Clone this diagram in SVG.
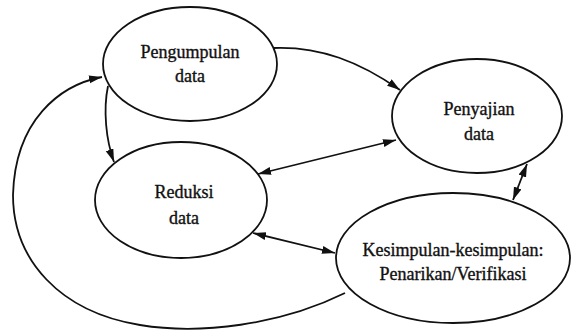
<svg xmlns="http://www.w3.org/2000/svg" width="572" height="333" viewBox="0 0 572 333">
<style>
.node ellipse{fill:#fff;stroke:#111;stroke-width:1.8}
.node text{font-family:"Liberation Serif","Times New Roman",serif;font-size:18px;fill:#111;stroke:#111;stroke-width:0.35;text-anchor:middle}
.conn path{fill:none;stroke:#111;stroke-width:1.8}
</style>
<defs>
<marker id="ah" markerUnits="userSpaceOnUse" markerWidth="14" markerHeight="9" refX="13" refY="4" orient="auto-start-reverse">
<path d="M0,0 L13,4 L0,8 z" fill="#111"/>
</marker>
</defs>
<rect width="572" height="333" fill="#fff"/>
<g id="n-pengumpulan" class="node">
<ellipse cx="190" cy="64" rx="87" ry="57"/>
<text x="190" y="58">Pengumpulan</text>
<text x="190" y="82">data</text>
</g>
<g id="n-penyajian" class="node">
<ellipse cx="477" cy="116" rx="85" ry="57"/>
<text x="479" y="115">Penyajian</text>
<text x="479" y="140">data</text>
</g>
<g id="n-reduksi" class="node">
<ellipse cx="181" cy="200" rx="86" ry="58"/>
<text x="184" y="198">Reduksi</text>
<text x="184" y="224">data</text>
</g>
<g id="n-kesimpulan" class="node">
<ellipse cx="453" cy="258" rx="117" ry="65"/>
<text x="453" y="256">Kesimpulan-kesimpulan:</text>
<text x="453" y="280">Penarikan/Verifikasi</text>
</g>
<g id="connectors" class="conn">
<path d="M108,86 C103,110 106,140 114,162" marker-end="url(#ah)"/>
<path d="M273,48 C320,46 360,62 400,90" marker-end="url(#ah)"/>
<path d="M258,174 L396,140" marker-start="url(#ah)" marker-end="url(#ah)"/>
<path d="M253,233 L335,253" marker-start="url(#ah)" marker-end="url(#ah)"/>
<path d="M527,164 L513,200" marker-start="url(#ah)" marker-end="url(#ah)"/>
<path d="M345,293 C280,325 200,335 140,325 C60,312 13,260 13,195 C15,120 60,85 102,77" marker-end="url(#ah)"/>
</g>
</svg>
